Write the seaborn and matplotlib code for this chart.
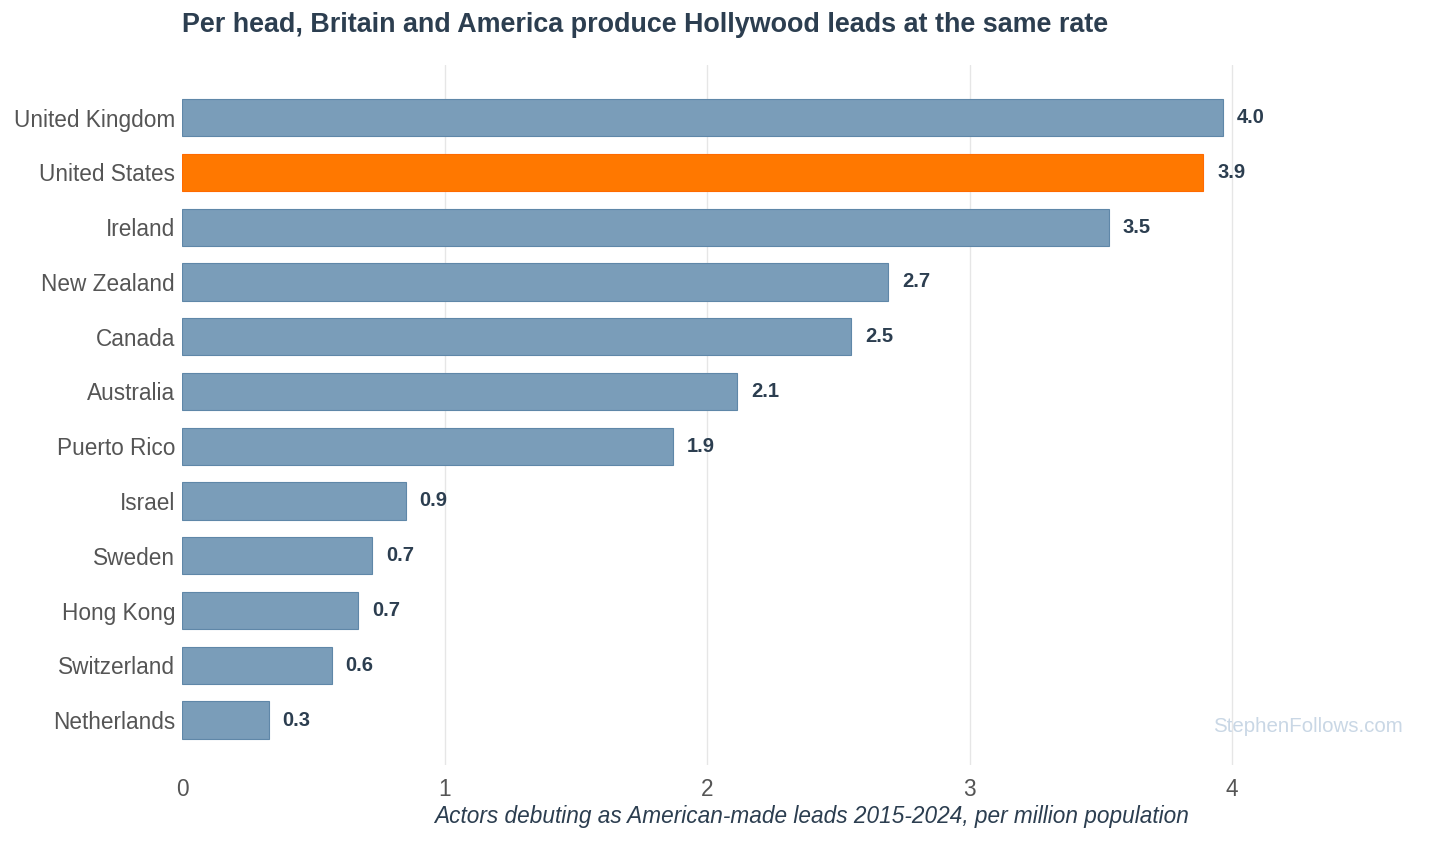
import matplotlib
matplotlib.use("Agg")
import matplotlib.pyplot as plt
import seaborn as sns
import pandas as pd

countries = ["United Kingdom", "United States", "Ireland", "New Zealand", "Canada",
             "Australia", "Puerto Rico", "Israel", "Sweden", "Hong Kong",
             "Switzerland", "Netherlands"]
values = [3.965, 3.89, 3.53, 2.69, 2.55, 2.115, 1.87, 0.852, 0.725, 0.67, 0.57, 0.33]
labels = ["4.0", "3.9", "3.5", "2.7", "2.5", "2.1", "1.9", "0.9", "0.7", "0.7", "0.6", "0.3"]
highlight = ["no", "yes", "no", "no", "no", "no", "no", "no", "no", "no", "no", "no"]
xticks = [0, 1, 2, 3, 4]

title = "Per head, Britain and America produce Hollywood leads at the same rate"
xlabel = "Actors debuting as American-made leads 2015-2024, per million population"
watermark = "StephenFollows.com"

df = pd.DataFrame({"country": countries, "value": values, "hl": highlight})

sns.set_theme(style="white")
plt.rcParams["font.family"] = ["Liberation Sans", "DejaVu Sans"]

fig = plt.figure(figsize=(14.56, 8.41), dpi=100)
ax = fig.add_axes([182/1456, 1-765/841, 1260/1456, 700/841])

palette = {"no": "#7a9db9", "yes": "#ff7800"}
sns.barplot(data=df, y="country", x="value", hue="hl", palette=palette,
            orient="h", width=0.68, legend=False, ax=ax, saturation=1)

for patch in ax.patches:
    fc = patch.get_facecolor()
    if fc[0] > 0.9:
        patch.set_edgecolor("#ff6a00")
    else:
        patch.set_edgecolor("#5f87a8")
    patch.set_linewidth(0.8)

for i, (v, lab) in enumerate(zip(values, labels)):
    ax.text(v + 0.053, i, lab, va="center", ha="left",
            fontsize=14.5, fontweight="bold", color="#2c3e50")

ax.set_xlim(0, 4.8)
ax.set_ylim(11.82, -0.96)
ax.set_xticks(xticks)
ax.set_xticklabels([str(t) for t in xticks])
ax.grid(axis="x", color="#e6e6e6", linewidth=1)
ax.grid(axis="y", visible=False)
ax.xaxis.get_gridlines()[0].set_visible(False)
ax.set_axisbelow(True)
for s in ax.spines.values():
    s.set_visible(False)
ax.tick_params(axis="both", length=0, labelsize=16.3, labelcolor="#555555")
ax.tick_params(axis="x", pad=9)
ax.tick_params(axis="y", pad=5)
ax.set_ylabel("")
ax.set_xlabel(xlabel, fontsize=16.3, style="italic", color="#2c3e50", labelpad=3)

fig.text(182/1456, 1-25/841, title, fontsize=19.4, fontweight="bold",
         color="#2c3e50", ha="left", va="center")
ax.text((1403-182)/1260, (765-726)/700, watermark, transform=ax.transAxes,
        ha="right", va="center", fontsize=14.8, color="#c9d7e5")

fig.savefig("out.png", dpi=100)
